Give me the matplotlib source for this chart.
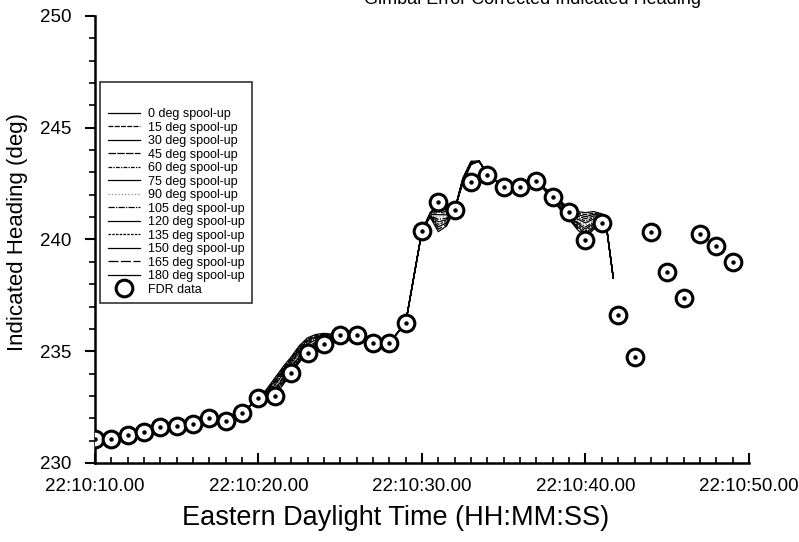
import matplotlib
matplotlib.use('Agg')
import matplotlib.pyplot as plt
from matplotlib.ticker import MultipleLocator, FuncFormatter

plt.rcParams['font.family'] = ['Liberation Sans', 'DejaVu Sans']

# FDR heading, one sample per second after 22:10:00
fdr_time = list(range(10, 50))
fdr_heading = [231.06, 231.09, 231.27, 231.40, 231.63, 231.66, 231.73, 232.00, 231.89, 232.23,
               232.90, 233.00, 234.02, 234.93, 235.34, 235.72, 235.72, 235.36, 235.36, 236.26,
               240.39, 241.66, 241.33, 242.57, 242.88, 242.37, 242.37, 242.63, 241.88, 241.25,
               239.99, 240.73, 236.61, 234.76, 240.34, 238.55, 237.38, 240.24, 239.72, 239.00]

spool_labels = ['0 deg spool-up', '15 deg spool-up', '30 deg spool-up', '45 deg spool-up',
                '60 deg spool-up', '75 deg spool-up', '90 deg spool-up', '105 deg spool-up',
                '120 deg spool-up', '135 deg spool-up', '150 deg spool-up', '165 deg spool-up',
                '180 deg spool-up']

# simulated heading - parts shared by every run
t_start = [10, 11, 12, 13, 14, 15, 16, 17, 18, 19]
h_start = [231.08, 231.12, 231.27, 231.42, 231.60, 231.68, 231.78, 231.95, 231.95, 232.25]
t_mid = [25, 26, 27, 28, 29, 30]
h_mid = [235.72, 235.72, 235.38, 235.38, 236.26, 240.39]
t_top = [33.5, 34, 35, 36, 37]
h_top = [243.50, 242.92, 242.37, 242.37, 242.63]
t_end = [41.7]
h_end = [238.27]

# simulated heading - parts where the runs spread apart (one row per spool-up)
t_turn1 = [20, 20.5, 21, 21.5, 22, 22.5, 23, 23.5, 24]
h_turn1 = [
    [232.9, 233.30, 233.80, 234.30, 234.75, 235.25, 235.60, 235.75, 235.80],
    [232.9, 233.27, 233.73, 234.23, 234.69, 235.19, 235.54, 235.70, 235.76],
    [232.9, 233.24, 233.67, 234.17, 234.63, 235.13, 235.49, 235.65, 235.73],
    [232.9, 233.21, 233.60, 234.10, 234.56, 235.06, 235.43, 235.60, 235.69],
    [232.9, 233.18, 233.53, 234.03, 234.50, 235.00, 235.38, 235.55, 235.65],
    [232.9, 233.15, 233.47, 233.97, 234.44, 234.94, 235.32, 235.50, 235.61],
    [232.9, 233.13, 233.40, 233.90, 234.38, 234.88, 235.27, 235.45, 235.58],
    [232.9, 233.10, 233.33, 233.83, 234.31, 234.81, 235.21, 235.40, 235.54],
    [232.9, 233.07, 233.27, 233.77, 234.25, 234.75, 235.15, 235.35, 235.50],
    [232.9, 233.04, 233.20, 233.70, 234.19, 234.69, 235.10, 235.30, 235.46],
    [232.9, 233.01, 233.13, 233.63, 234.13, 234.63, 235.04, 235.25, 235.43],
    [232.9, 232.98, 233.07, 233.57, 234.06, 234.56, 234.99, 235.20, 235.39],
    [232.9, 232.95, 233.00, 233.50, 234.00, 234.50, 234.93, 235.15, 235.35],
]
t_wiggle = [30.5, 31, 31.5, 32, 32.5, 33]
h_wiggle = [
    [241.20, 241.66, 241.45, 241.33, 242.75, 243.50],
    [241.18, 241.55, 241.38, 241.33, 242.73, 243.49],
    [241.17, 241.44, 241.31, 241.33, 242.72, 243.48],
    [241.15, 241.33, 241.24, 241.33, 242.70, 243.46],
    [241.13, 241.22, 241.17, 241.33, 242.68, 243.45],
    [241.12, 241.11, 241.10, 241.33, 242.67, 243.44],
    [241.10, 241.00, 241.03, 241.33, 242.65, 243.43],
    [241.08, 240.90, 240.95, 241.33, 242.63, 243.41],
    [241.07, 240.79, 240.88, 241.33, 242.62, 243.40],
    [241.05, 240.68, 240.81, 241.33, 242.60, 243.39],
    [241.03, 240.57, 240.74, 241.33, 242.58, 243.38],
    [241.02, 240.46, 240.67, 241.33, 242.57, 243.36],
    [241.00, 240.35, 240.60, 241.33, 242.55, 243.35],
]
t_fall = [37.5, 38, 38.5, 39, 39.5, 40, 40.5, 41, 41.3]
h_fall = [
    [242.30, 242.05, 241.70, 241.40, 241.25, 241.20, 241.25, 241.15, 240.50],
    [242.29, 242.03, 241.67, 241.36, 241.18, 241.11, 241.18, 241.12, 240.50],
    [242.28, 242.00, 241.63, 241.32, 241.12, 241.02, 241.12, 241.08, 240.49],
    [242.28, 241.98, 241.60, 241.28, 241.05, 240.93, 241.05, 241.05, 240.49],
    [242.27, 241.95, 241.57, 241.23, 240.98, 240.83, 240.98, 241.02, 240.48],
    [242.26, 241.93, 241.53, 241.19, 240.92, 240.74, 240.92, 240.98, 240.48],
    [242.25, 241.90, 241.50, 241.15, 240.85, 240.65, 240.85, 240.95, 240.48],
    [242.24, 241.88, 241.47, 241.11, 240.78, 240.56, 240.78, 240.92, 240.47],
    [242.23, 241.85, 241.43, 241.07, 240.72, 240.47, 240.72, 240.88, 240.47],
    [242.23, 241.83, 241.40, 241.03, 240.65, 240.38, 240.65, 240.85, 240.46],
    [242.22, 241.80, 241.37, 240.98, 240.58, 240.28, 240.58, 240.82, 240.46],
    [242.21, 241.78, 241.33, 240.94, 240.52, 240.19, 240.52, 240.78, 240.45],
    [242.20, 241.75, 241.30, 240.90, 240.45, 240.10, 240.45, 240.75, 240.45],
]

line_styles = ['-', (0, (4, 1)), '-', (0, (6, 1)), (0, (3, 1, 1, 1)), '-', ':',
               (0, (5, 1, 1, 1)), '-', (0, (2, 1)), '-', (0, (8, 2)), '-']

fig = plt.figure(figsize=(7.99, 5.42), dpi=100)
ax = fig.add_axes([0.1189, 0.1458, 0.8185, 0.8247])

for k, lab in enumerate(spool_labels):
    t = t_start + t_turn1 + t_mid + t_wiggle + t_top + t_fall + t_end
    h = h_start + h_turn1[k] + h_mid + h_wiggle[k] + h_top + h_fall[k] + h_end
    col = '0.55' if k == 6 else 'black'
    ax.plot(t, h, color=col, lw=0.9, ls=line_styles[k], label=lab, zorder=2)

ax.plot(fdr_time, fdr_heading, ls='none', marker='o', ms=12, mfc='white', mec='black',
        mew=2.2, label='FDR data', zorder=3)
ax.plot(fdr_time, fdr_heading, ls='none', marker='o', ms=2.2, color='black', zorder=4)

ax.set_xlim(10, 50)
ax.set_ylim(230, 250)
ax.xaxis.set_major_locator(MultipleLocator(10))
ax.xaxis.set_minor_locator(MultipleLocator(1))
ax.yaxis.set_major_locator(MultipleLocator(5))
ax.yaxis.set_minor_locator(MultipleLocator(1))
ax.xaxis.set_major_formatter(FuncFormatter(lambda v, p: '22:10:%02d.00' % int(round(v))))

ax.spines['top'].set_visible(False)
ax.spines['right'].set_visible(False)
ax.spines['left'].set_linewidth(1.8)
ax.spines['bottom'].set_linewidth(1.8)
ax.tick_params(axis='x', which='major', direction='in', length=7, width=1.5, labelsize=13.5, pad=11)
ax.tick_params(axis='x', which='minor', direction='in', length=4, width=1.2)
ax.tick_params(axis='y', which='major', direction='out', length=7, width=1.5, labelsize=13.5, pad=10)
ax.tick_params(axis='y', which='minor', direction='out', length=4, width=1.2)

ax.set_xlabel('Eastern Daylight Time (HH:MM:SS)', fontsize=19.5)
ax.xaxis.set_label_coords(0.459, -0.094)
ax.set_ylabel('Indicated Heading (deg)', fontsize=16)
ax.yaxis.set_label_coords(-0.102, 0.516)

fig.text(0.666, 1 - 4 / 542, 'Gimbal Error Corrected Indicated Heading', fontsize=13,
         ha='center', va='baseline')

leg = ax.legend(loc='upper left', bbox_to_anchor=(0.008, 0.852), borderaxespad=0,
                fontsize=9, frameon=True, fancybox=False, edgecolor='black',
                handlelength=2.6, labelspacing=0.12, borderpad=0.6, handletextpad=0.6,
                title=' ', title_fontsize=13)
leg.get_frame().set_linewidth(1.2)

fig.savefig('out.png', dpi=100)
